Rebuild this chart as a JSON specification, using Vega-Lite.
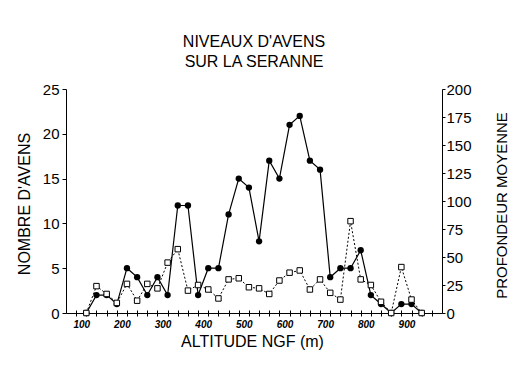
{
  "$schema": "https://vega.github.io/schema/vega-lite/v6.json",
  "width": 376,
  "height": 224,
  "autosize": {"type": "none"},
  "padding": {"left": 66, "top": 89, "right": 83, "bottom": 64},
  "background": "white",
  "config": {
    "view": {"stroke": null},
    "axis": {
      "grid": false,
      "domainColor": "black",
      "tickColor": "black",
      "labelColor": "black",
      "titleColor": "black",
      "labelFont": "Liberation Sans",
      "titleFont": "Liberation Sans",
      "titleFontWeight": "normal"
    }
  },
  "title": {
    "text": ["NIVEAUX D'AVENS", "SUR LA SERANNE"],
    "font": "Liberation Sans",
    "fontSize": 16,
    "fontWeight": "normal",
    "color": "black",
    "anchor": "middle",
    "frame": "group",
    "lineHeight": 20,
    "offset": 12
  },
  "data": {
    "values": [
      {"altitude": 112.5, "nombre": 0, "profondeur": 0},
      {"altitude": 137.5, "nombre": 2, "profondeur": 24},
      {"altitude": 162.5, "nombre": 2, "profondeur": 17},
      {"altitude": 187.5, "nombre": 1, "profondeur": 9},
      {"altitude": 212.5, "nombre": 5, "profondeur": 26},
      {"altitude": 237.5, "nombre": 4, "profondeur": 11},
      {"altitude": 262.5, "nombre": 2, "profondeur": 26},
      {"altitude": 287.5, "nombre": 4, "profondeur": 22},
      {"altitude": 312.5, "nombre": 2, "profondeur": 45},
      {"altitude": 337.5, "nombre": 12, "profondeur": 57},
      {"altitude": 362.5, "nombre": 12, "profondeur": 20},
      {"altitude": 387.5, "nombre": 2, "profondeur": 25},
      {"altitude": 412.5, "nombre": 5, "profondeur": 21},
      {"altitude": 437.5, "nombre": 5, "profondeur": 13},
      {"altitude": 462.5, "nombre": 11, "profondeur": 30},
      {"altitude": 487.5, "nombre": 15, "profondeur": 31},
      {"altitude": 512.5, "nombre": 14, "profondeur": 23},
      {"altitude": 537.5, "nombre": 8, "profondeur": 22},
      {"altitude": 562.5, "nombre": 17, "profondeur": 17},
      {"altitude": 587.5, "nombre": 15, "profondeur": 29},
      {"altitude": 612.5, "nombre": 21, "profondeur": 36},
      {"altitude": 637.5, "nombre": 22, "profondeur": 38},
      {"altitude": 662.5, "nombre": 17, "profondeur": 21},
      {"altitude": 687.5, "nombre": 16, "profondeur": 30},
      {"altitude": 712.5, "nombre": 4, "profondeur": 18},
      {"altitude": 737.5, "nombre": 5, "profondeur": 12},
      {"altitude": 762.5, "nombre": 5, "profondeur": 82},
      {"altitude": 787.5, "nombre": 7, "profondeur": 30},
      {"altitude": 812.5, "nombre": 2, "profondeur": 25},
      {"altitude": 837.5, "nombre": 1, "profondeur": 10},
      {"altitude": 862.5, "nombre": 0, "profondeur": 0},
      {"altitude": 887.5, "nombre": 1, "profondeur": 41},
      {"altitude": 912.5, "nombre": 1, "profondeur": 12},
      {"altitude": 937.5, "nombre": 0, "profondeur": 0}
    ]
  },
  "layer": [
    {
      "encoding": {
        "x": {
          "field": "altitude",
          "type": "quantitative",
          "scale": {"domain": [62.5, 987.5], "nice": false, "zero": false},
          "axis": {
            "orient": "bottom",
            "values": [100, 200, 300, 400, 500, 600, 700, 800, 900],
            "ticks": false,
            "labelPadding": 6,
            "labelFont": "Liberation Sans",
            "labelFontSize": 10,
            "labelFontStyle": "italic",
            "labelFontWeight": "bold",
            "title": "ALTITUDE NGF (m)",
            "titleFontSize": 16,
            "titleX": 186,
            "titleY": 33,
            "titleAlign": "center",
            "titleBaseline": "alphabetic"
          }
        },
        "y": {
          "field": "nombre",
          "type": "quantitative",
          "scale": {"domain": [0, 25], "nice": false},
          "axis": {
            "values": [0, 5, 10, 15, 20, 25],
            "tickSize": 4,
            "labelPadding": 3,
            "labelFontSize": 15,
            "title": "NOMBRE D'AVENS",
            "titleFontSize": 16,
            "titleAngle": -90,
            "titleX": -42,
            "titleY": 114.5,
            "titleAlign": "center",
            "titleBaseline": "middle"
          }
        }
      },
      "layer": [
        {"mark": {"type": "line", "color": "black", "strokeWidth": 1.2}},
        {"mark": {"type": "point", "shape": "circle", "filled": true, "color": "black", "size": 40, "opacity": 1}}
      ]
    },
    {
      "encoding": {
        "x": {
          "field": "altitude",
          "type": "quantitative",
          "scale": {"domain": [62.5, 987.5], "nice": false, "zero": false},
          "axis": {
            "orient": "bottom",
            "values": [87.5, 112.5, 137.5, 162.5, 187.5, 212.5, 237.5, 262.5, 287.5, 312.5, 337.5, 362.5, 387.5, 412.5, 437.5, 462.5, 487.5, 512.5, 537.5, 562.5, 587.5, 612.5, 637.5, 662.5, 687.5, 712.5, 737.5, 762.5, 787.5, 812.5, 837.5, 862.5, 887.5, 912.5, 937.5, 962.5],
            "labels": false,
            "domain": false,
            "title": null,
            "tickSize": 6,
            "offset": -3
          }
        },
        "y": {
          "field": "profondeur",
          "type": "quantitative",
          "scale": {"domain": [0, 200], "nice": false},
          "axis": {
            "orient": "right",
            "values": [0, 25, 50, 75, 100, 125, 150, 175, 200],
            "tickSize": 3,
            "labelPadding": 1,
            "labelFontSize": 15,
            "title": "PROFONDEUR MOYENNE",
            "titleFontSize": 15,
            "titleAngle": -90,
            "titleX": 59,
            "titleY": 116,
            "titleAlign": "center",
            "titleBaseline": "middle"
          }
        }
      },
      "layer": [
        {"mark": {"type": "line", "color": "black", "strokeWidth": 1, "strokeDash": [2, 2]}},
        {"mark": {"type": "point", "shape": "square", "fill": "white", "stroke": "black", "strokeWidth": 1, "size": 30, "opacity": 1}}
      ]
    }
  ],
  "resolve": {"scale": {"y": "independent"}, "axis": {"y": "independent", "x": "independent"}}
}
